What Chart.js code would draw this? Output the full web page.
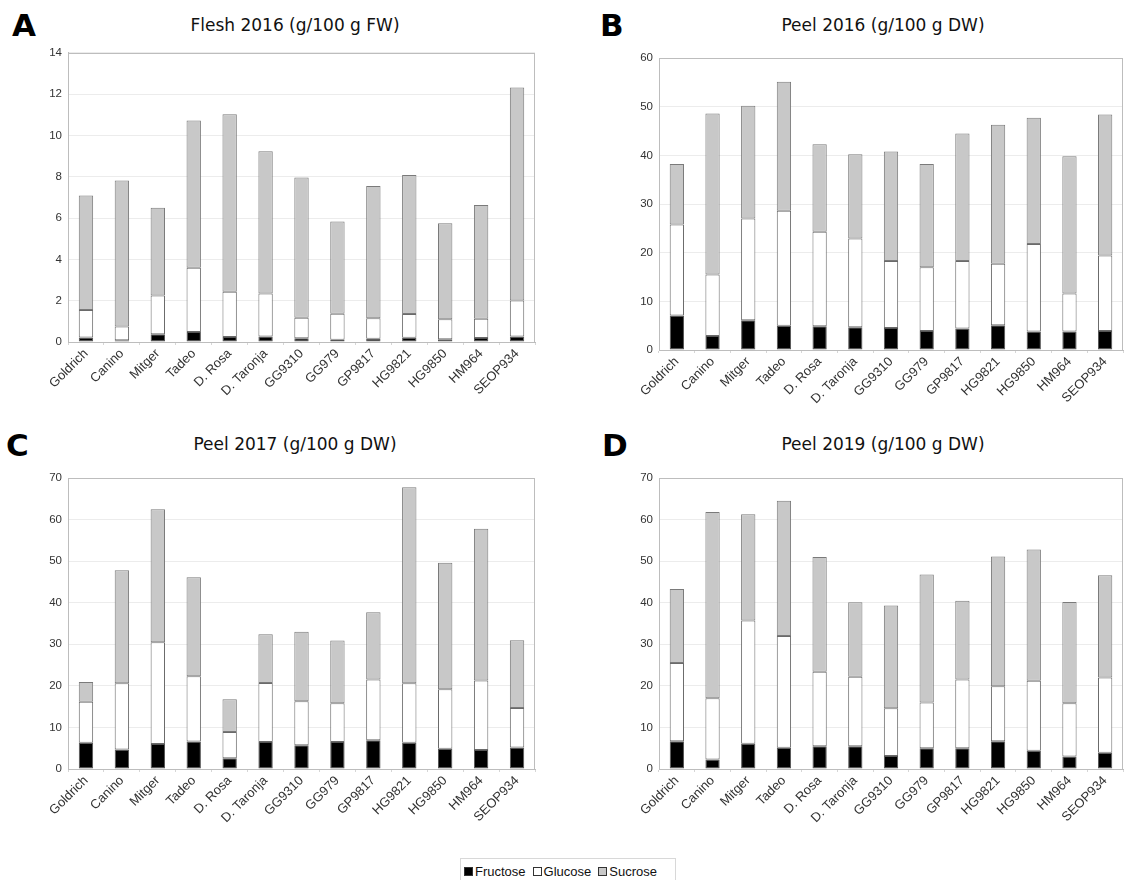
<!DOCTYPE html>
<html><head><meta charset="utf-8">
<script src="https://cdn.jsdelivr.net/npm/chart.js@4.4.1/dist/chart.umd.min.js"></script>
<style>
html,body{margin:0;padding:0;background:#fff}
body{width:1126px;height:880px;position:relative;overflow:hidden;font-family:"Liberation Sans",Arial,sans-serif}
.letter{position:absolute;font-family:"DejaVu Sans",sans-serif;font-weight:bold;font-size:31px;line-height:1;color:#000}
.title{position:absolute;font-family:"DejaVu Sans",sans-serif;font-size:17px;line-height:1;white-space:nowrap;transform:translateX(-50%);color:#111}
.panel{position:absolute}
.legend{position:absolute;left:460px;top:858px;width:216px;height:30px;border:1px solid #d8d8d8;box-sizing:border-box;font-size:13px;color:#111;padding:5px 0 0 3px;white-space:nowrap}
.legend span.sw{display:inline-block;width:7px;height:7px;border:1px solid #333;margin-right:2px;vertical-align:0px}
.legend span.it{margin-right:7px}
</style></head><body>
<div class="letter" style="left:12px;top:10px">A</div>
<div class="letter" style="left:600px;top:10px">B</div>
<div class="letter" style="left:6px;top:430px">C</div>
<div class="letter" style="left:602px;top:430px">D</div>
<div class="title" style="left:295px;top:17px">Flesh 2016 (g/100 g FW)</div>
<div class="title" style="left:883px;top:17px">Peel 2016 (g/100 g DW)</div>
<div class="title" style="left:295px;top:436px">Peel 2017 (g/100 g DW)</div>
<div class="title" style="left:883px;top:436px">Peel 2019 (g/100 g DW)</div>
<div class="panel" style="left:0;top:40px"><canvas id="cA" width="560" height="380" style="width:560px;height:380px"></canvas></div>
<div class="panel" style="left:590px;top:40px"><canvas id="cB" width="536" height="380" style="width:536px;height:380px"></canvas></div>
<div class="panel" style="left:0;top:460px"><canvas id="cC" width="560" height="380" style="width:560px;height:380px"></canvas></div>
<div class="panel" style="left:590px;top:460px"><canvas id="cD" width="536" height="380" style="width:536px;height:380px"></canvas></div>
<div class="legend"><span class="it"><span class="sw" style="background:#000"></span>Fructose</span><span class="it"><span class="sw" style="background:#fff"></span>Glucose</span><span class="it"><span class="sw" style="background:#c8c8c8"></span>Sucrose</span></div>
<script>
const categories = ["Goldrich","Canino","Mitger","Tadeo","D. Rosa","D. Taronja","GG9310","GG979","GP9817","HG9821","HG9850","HM964","SEOP934"];
const seriesNames = ["Fructose","Glucose","Sucrose"];

// Panel A: Flesh 2016 (g/100 g FW)
const fleshFructose2016 = [0.22,0.08,0.38,0.48,0.24,0.27,0.18,0.11,0.16,0.21,0.13,0.19,0.27];
const fleshGlucose2016  = [1.33,0.67,1.87,3.11,2.19,2.08,1.00,1.26,0.99,1.15,0.97,0.93,1.74];
const fleshSucrose2016  = [5.54,7.07,4.25,7.14,8.60,6.89,6.79,4.47,6.40,6.73,4.65,5.51,10.31];
const ticksA = [0,2,4,6,8,10,12,14];

// Panel B: Peel 2016 (g/100 g DW)
const peelFructose2016 = [7.1,2.9,6.1,5.0,4.9,4.7,4.5,3.9,4.4,5.1,3.8,3.8,3.9];
const peelGlucose2016  = [18.7,12.6,20.9,23.6,19.4,18.2,13.8,13.1,13.9,12.6,18.0,7.8,15.5];
const peelSucrose2016  = [12.4,33.1,23.2,26.5,18.0,17.3,22.5,21.2,26.2,28.6,25.9,28.2,29.0];
const ticksB = [0,10,20,30,40,50,60];

// Panel C: Peel 2017 (g/100 g DW)
const peelFructose2017 = [6.3,4.7,6.0,6.6,2.6,6.5,5.7,6.5,6.9,6.3,4.9,4.6,5.2];
const peelGlucose2017  = [9.9,15.9,24.5,15.7,6.3,14.2,10.6,9.3,14.6,14.3,14.3,16.7,9.5];
const peelSucrose2017  = [4.7,27.2,32.0,23.8,7.9,11.7,16.7,15.1,16.2,47.2,30.4,36.5,16.3];
const ticksC = [0,10,20,30,40,50,60,70];

// Panel D: Peel 2019 (g/100 g DW)
const peelFructose2019 = [6.7,2.3,6.1,5.1,5.5,5.5,3.1,5.0,5.0,6.7,4.4,3.0,3.9];
const peelGlucose2019  = [18.8,14.7,29.6,26.9,17.9,16.7,11.5,11.0,16.5,13.2,16.8,12.8,18.1];
const peelSucrose2019  = [17.8,44.8,25.6,32.5,27.6,17.9,24.7,30.8,19.0,31.2,31.6,24.4,24.6];
const ticksD = [0,10,20,30,40,50,60,70];

const fills = ["#000000","#ffffff","#c8c8c8"];
const edges = ["#555555","#6a6a6a","#7a7a7a"];

const frame = {
  id:'frame',
  afterDraw(chart){
    const a = chart.chartArea, ctx = chart.ctx;
    ctx.save();
    ctx.strokeStyle = '#bdbdbd';
    ctx.lineWidth = 1;
    ctx.strokeRect(Math.round(a.left)+0.5, Math.round(a.top)+0.5, Math.round(a.right-a.left)-1, Math.round(a.bottom-a.top));
    ctx.restore();
  }
};

function makePanel(id, pos, target, series, ticks){
  const yWidth = target.left - pos.left;
  const padTop = target.top - pos.top;
  const padRight = pos.left + pos.w - target.right;
  const xHeight = pos.top + pos.h - target.bottom;
  const yFont = {family:"'Liberation Sans', Arial, sans-serif", size:11.5};
  const xFont = {family:"'Liberation Sans', Arial, sans-serif", size:13};
  new Chart(document.getElementById(id), {
    type:'bar',
    data:{
      labels: categories,
      datasets: series.map((d,i)=>({
        label: seriesNames[i], data: d,
        backgroundColor: fills[i], borderColor: edges[i], borderWidth: 1,
        borderSkipped: false,
        barPercentage: 0.4, categoryPercentage: 1.0
      }))
    },
    options:{
      responsive:false, animation:false, devicePixelRatio:1,
      layout:{padding:{top:padTop, right:padRight, left:0, bottom:0}},
      plugins:{legend:{display:false}, title:{display:false}, tooltip:{enabled:false}},
      scales:{
        x:{
          stacked:true, offset:true,
          grid:{display:true, drawOnChartArea:false, tickLength:3, color:'#d6d6d6'},
          border:{color:'#bdbdbd'},
          ticks:{color:'#333', font:xFont, maxRotation:45, minRotation:45, autoSkip:false, padding:1},
          afterFit(s){ s.height = xHeight; }
        },
        y:{
          stacked:true, min:ticks[0], max:ticks[ticks.length-1],
          afterBuildTicks(s){ s.ticks = ticks.map(v=>({value:v})); },
          grid:{color:'#ececec', drawTicks:false},
          border:{color:'#bdbdbd'},
          ticks:{color:'#333', font:yFont, padding:6},
          afterFit(s){ s.width = yWidth; }
        }
      }
    },
    plugins:[frame]
  });
}

makePanel('cA', {left:0,top:40,w:560,h:380}, {left:68,top:50,right:535,bottom:342},
  [fleshFructose2016, fleshGlucose2016, fleshSucrose2016], ticksA);
makePanel('cB', {left:590,top:40,w:536,h:380}, {left:659,top:58,right:1123,bottom:350},
  [peelFructose2016, peelGlucose2016, peelSucrose2016], ticksB);
makePanel('cC', {left:0,top:460,w:560,h:380}, {left:68,top:478,right:535,bottom:769},
  [peelFructose2017, peelGlucose2017, peelSucrose2017], ticksC);
makePanel('cD', {left:590,top:460,w:536,h:380}, {left:659,top:478,right:1123,bottom:769},
  [peelFructose2019, peelGlucose2019, peelSucrose2019], ticksD);
</script>
</body></html>
